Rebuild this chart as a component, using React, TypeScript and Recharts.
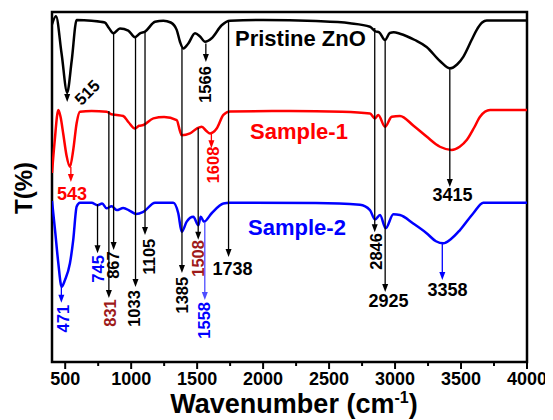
import { LineChart, Line, XAxis, YAxis, ReferenceLine, ReferenceDot, ReferenceArea } from 'recharts'

const FONT = "'Liberation Sans', Arial, sans-serif"
const RED = '#ff0000'
const BLUE = '#0000ff'
const DARKRED = '#9e1a1a'

// wavenumber (cm-1), transmittance (offset stacked, arbitrary units)
const pristine = [
  { x: 400, y: 96.5 }, { x: 430, y: 98.8 }, { x: 473, y: 88 }, { x: 515, y: 77 }, { x: 549, y: 86 },
  { x: 587, y: 97.7 }, { x: 700, y: 97.5 }, { x: 800, y: 97 }, { x: 830, y: 95.5 }, { x: 865, y: 93.9 },
  { x: 915, y: 95.3 }, { x: 978, y: 94.7 }, { x: 1029, y: 92.8 }, { x: 1067, y: 93.9 }, { x: 1105, y: 94.4 },
  { x: 1181, y: 97.2 }, { x: 1244, y: 97.5 }, { x: 1300, y: 97 }, { x: 1345, y: 94.9 }, { x: 1370, y: 91.5 },
  { x: 1395, y: 89.6 }, { x: 1433, y: 91 }, { x: 1484, y: 93.9 }, { x: 1522, y: 93 }, { x: 1560, y: 91.5 },
  { x: 1610, y: 92.5 }, { x: 1686, y: 96.2 }, { x: 1749, y: 97.5 }, { x: 2000, y: 97.7 }, { x: 2400, y: 97.4 },
  { x: 2658, y: 96.8 }, { x: 2810, y: 95.8 }, { x: 2850, y: 94.5 }, { x: 2880, y: 94.2 }, { x: 2924, y: 92 },
  { x: 2960, y: 94 }, { x: 2990, y: 94.2 }, { x: 3037, y: 93.8 }, { x: 3150, y: 92 }, { x: 3239, y: 90 },
  { x: 3340, y: 86 }, { x: 3416, y: 83.9 }, { x: 3470, y: 85 }, { x: 3517, y: 87.2 }, { x: 3580, y: 92 },
  { x: 3619, y: 94.9 }, { x: 3660, y: 97 }, { x: 3695, y: 97.6 }, { x: 4000, y: 97.6 },
]

const sample1 = [
  { x: 400, y: 54 }, { x: 420, y: 63 }, { x: 448, y: 72 }, { x: 465, y: 70 }, { x: 486, y: 65 },
  { x: 510, y: 59 }, { x: 536, y: 55.8 }, { x: 561, y: 60.6 }, { x: 587, y: 68.3 }, { x: 612, y: 71.5 },
  { x: 700, y: 71.7 }, { x: 814, y: 71.5 }, { x: 850, y: 70.8 }, { x: 890, y: 70.6 }, { x: 940, y: 70.3 },
  { x: 980, y: 68.5 }, { x: 1029, y: 66.7 }, { x: 1060, y: 67.5 }, { x: 1092, y: 67.7 }, { x: 1168, y: 69.6 },
  { x: 1250, y: 70 }, { x: 1345, y: 69.1 }, { x: 1370, y: 66 }, { x: 1383, y: 64.8 }, { x: 1446, y: 65.3 },
  { x: 1497, y: 66.7 }, { x: 1535, y: 67.2 }, { x: 1570, y: 66 }, { x: 1598, y: 65.3 }, { x: 1648, y: 66.7 },
  { x: 1699, y: 70.6 }, { x: 1749, y: 71.6 }, { x: 2200, y: 71.7 }, { x: 2600, y: 71.5 }, { x: 2810, y: 71 },
  { x: 2848, y: 69.6 }, { x: 2873, y: 70.6 }, { x: 2924, y: 67.2 }, { x: 2975, y: 70.1 }, { x: 3037, y: 70.3 },
  { x: 3140, y: 67.5 }, { x: 3239, y: 64.4 }, { x: 3340, y: 61.5 }, { x: 3429, y: 60.6 }, { x: 3490, y: 61.5 },
  { x: 3543, y: 63.4 }, { x: 3600, y: 67 }, { x: 3644, y: 70.1 }, { x: 3720, y: 72 }, { x: 4000, y: 72 },
]

const sample2 = [
  { x: 400, y: 46 }, { x: 423, y: 37.7 }, { x: 448, y: 28.2 }, { x: 473, y: 21.5 }, { x: 498, y: 23.4 },
  { x: 536, y: 28.2 }, { x: 561, y: 34.9 }, { x: 587, y: 44.4 }, { x: 612, y: 45.5 }, { x: 700, y: 45.5 },
  { x: 745, y: 44.8 }, { x: 780, y: 45.3 }, { x: 814, y: 43.9 }, { x: 852, y: 44.5 }, { x: 890, y: 43.4 },
  { x: 940, y: 44 }, { x: 990, y: 43.2 }, { x: 1037, y: 42.3 }, { x: 1092, y: 42.9 }, { x: 1181, y: 45.5 },
  { x: 1319, y: 45.5 }, { x: 1357, y: 42.5 }, { x: 1383, y: 37.2 }, { x: 1421, y: 40.1 }, { x: 1471, y: 41.5 },
  { x: 1509, y: 39.1 }, { x: 1527, y: 41.5 }, { x: 1552, y: 40.1 }, { x: 1610, y: 42.5 }, { x: 1699, y: 45.3 },
  { x: 1749, y: 45.5 }, { x: 2400, y: 45.4 }, { x: 2734, y: 44.9 }, { x: 2810, y: 43.4 }, { x: 2848, y: 40.7 },
  { x: 2886, y: 42 }, { x: 2929, y: 38.2 }, { x: 2987, y: 42.2 }, { x: 3037, y: 42 }, { x: 3140, y: 39.5 },
  { x: 3239, y: 36.8 }, { x: 3310, y: 34.5 }, { x: 3366, y: 33.9 }, { x: 3420, y: 35 }, { x: 3492, y: 37.7 },
  { x: 3593, y: 42.5 }, { x: 3669, y: 45.5 }, { x: 4000, y: 45.5 },
]

const xTicks = [500, 750, 1000, 1250, 1500, 1750, 2000, 2250, 2500, 2750, 3000, 3250, 3500, 3750, 4000]

// [wavenumber, from y, to y, colour]
const arrows: [number, number, number, string][] = [
  [515, 77, 74.3, '#000'],
  [543, 55.7, 51.4, RED],
  [1566, 91, 85.7, '#000'],
  [1608, 65.4, 61.1, RED],
  [3415, 84, 50, '#000'],
  [831, 71.7, 18.3, '#000'],
  [867, 94, 32, '#000'],
  [745, 45.1, 31.1, '#000'],
  [1033, 92.9, 21.4, '#000'],
  [1105, 94.3, 36.3, '#000'],
  [1385, 89.7, 25.4, '#000'],
  [1508, 66.9, 34.9, '#000'],
  [1558, 40, 17.7, '#4d4dff'],
  [1738, 97.7, 30, '#000'],
  [2846, 95.4, 37.1, '#000'],
  [2925, 92, 20, '#000'],
  [3358, 34, 23.4, BLUE],
  [471, 21.4, 16.9, BLUE],
]

// [text, x, y, colour, rotation]
const peakLabels: [string, number, number, string, number][] = [
  ['515', 665, 77.1, '#000', -45],
  ['1566', 1563, 79.3, '#000', -90],
  ['543', 552, 48.1, RED, 0],
  ['1608', 1624, 56.3, RED, -90],
  ['3415', 3435, 47.7, '#000', 0],
  ['831', 840, 14, DARKRED, -90],
  ['867', 859, 27.7, '#000', -90],
  ['745', 745, 26.6, BLUE, -90],
  ['1033', 1018, 15.3, '#000', -90],
  ['1105', 1135, 30.1, '#000', -90],
  ['1385', 1389, 19.1, '#000', -90],
  ['1508', 1507, 29.6, DARKRED, -90],
  ['1558', 1552, 11.9, BLUE, -90],
  ['1738', 1768, 26.7, '#000', 0],
  ['2846', 2859, 31.6, '#000', -90],
  ['2925', 2950, 17.3, '#000', 0],
  ['3358', 3398, 20.6, '#000', 0],
  ['471', 483, 12.4, BLUE, -90],
]

// [name, x, baseline y, colour]
const seriesNames: [string, number, number, string][] = [
  ['Pristine ZnO', 1787, 90.3, '#000'],
  ['Sample-1', 1901, 63.7, RED],
  ['Sample-2', 1886, 36.3, BLUE],
]

function XTick(props: any) {
  const { x, y, payload } = props
  const major = payload.value % 500 === 0
  return (
    <g>
      <line x1={x} x2={x} y1={y} y2={y + (major ? 7 : 4)} stroke="#000" strokeWidth={2} />
      {major && (
        <text x={x} y={y + 23} textAnchor="middle" fontFamily={FONT} fontWeight="bold" fontSize={18} fill="#000">
          {payload.value}
        </text>
      )}
    </g>
  )
}

function Arrow(props: any) {
  const { x1, y1, x2, y2, color } = props
  const head = 8
  return (
    <g>
      <line x1={x1} y1={y1} x2={x2} y2={y2 - head + 1} stroke={color} strokeWidth={1.3} />
      <polygon points={`${x2 - 3},${y2 - head} ${x2 + 3},${y2 - head} ${x2},${y2}`} fill={color} />
    </g>
  )
}

function PeakText(props: any) {
  const { cx, cy, text, color, rot } = props
  return (
    <text
      x={cx}
      y={cy}
      textAnchor="middle"
      dominantBaseline="central"
      transform={rot ? `rotate(${rot}, ${cx}, ${cy})` : undefined}
      fontFamily={FONT}
      fontWeight="bold"
      fontSize={rot ? 16.5 : 18}
      fill={color}
    >
      {text}
    </text>
  )
}

export default function App() {
  return (
    <div style={{ position: 'relative', width: 545, height: 412 }}>
      <LineChart width={545} height={412} margin={{ top: 4, right: 26, bottom: 0, left: 44 }}>
        <XAxis
          type="number"
          dataKey="x"
          domain={[400, 4000]}
          ticks={xTicks}
          interval={0}
          allowDataOverflow
          axisLine={false}
          tickLine={false}
          tickSize={0}
          tickMargin={0}
          height={58}
          tick={<XTick />}
        />
        <YAxis type="number" domain={[0, 100]} hide />
        <Line data={pristine} dataKey="y" type="monotone" stroke="#000" strokeWidth={2.5} dot={false} isAnimationActive={false} />
        <Line data={sample1} dataKey="y" type="monotone" stroke={RED} strokeWidth={2.5} dot={false} isAnimationActive={false} />
        <Line data={sample2} dataKey="y" type="monotone" stroke={BLUE} strokeWidth={2.5} dot={false} isAnimationActive={false} />
        {arrows.map(([x, from, to, color], i) => (
          <ReferenceLine
            key={'a' + i}
            segment={[{ x, y: from }, { x, y: to }]}
            shape={(p: any) => <Arrow {...p} color={color} />}
          />
        ))}
        {peakLabels.map(([text, x, y, color, rot], i) => (
          <ReferenceDot
            key={'l' + i}
            x={x}
            y={y}
            r={0}
            shape={(p: any) => <PeakText {...p} text={text} color={color} rot={rot} />}
          />
        ))}
        {seriesNames.map(([name, x, y, color]) => (
          <ReferenceDot
            key={name}
            x={x}
            y={y}
            r={0}
            shape={(p: any) => (
              <text x={p.cx} y={p.cy} fontFamily={FONT} fontWeight="bold" fontSize={22} fill={color}>
                {name}
              </text>
            )}
          />
        ))}
        <ReferenceArea x1={400} x2={4000} y1={0} y2={100} fill="none" stroke="#000" strokeWidth={2.5} />
      </LineChart>
      <svg width={545} height={412} style={{ position: 'absolute', left: 0, top: 0, pointerEvents: 'none' }}>
        <text
          x={15}
          y={180}
          transform="rotate(-90, 15, 180)"
          textAnchor="middle"
          dominantBaseline="central"
          fontFamily={FONT}
          fontWeight="bold"
          fontSize={24}
        >
          T(%)
        </text>
        <text x={286} y={405} textAnchor="middle" fontFamily={FONT} fontWeight="bold" fontSize={27}>
          Wavenumber (cm
          <tspan fontSize={16} dy={-10}>-1</tspan>
          <tspan dy={10}>)</tspan>
        </text>
      </svg>
    </div>
  )
}
